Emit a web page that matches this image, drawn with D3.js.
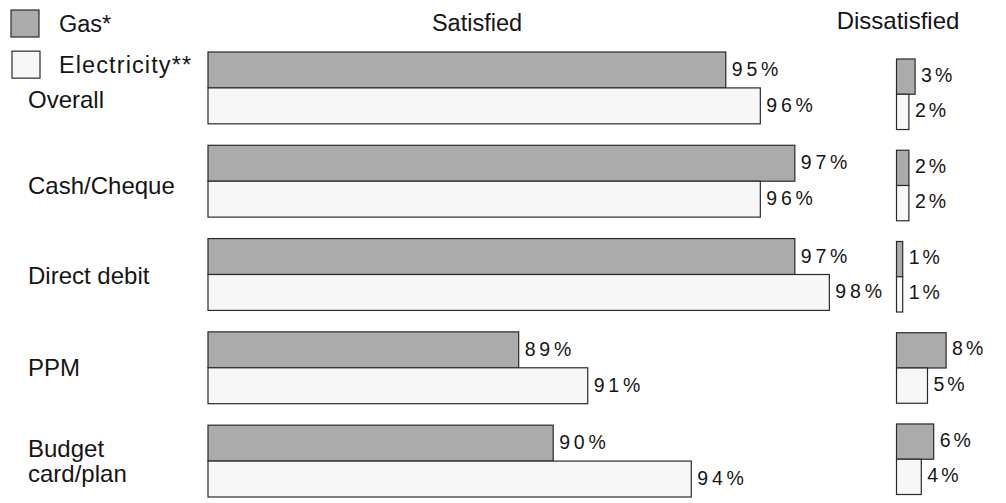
<!DOCTYPE html>
<html>
<head>
<meta charset="utf-8">
<script src="https://cdn.jsdelivr.net/npm/d3@7"></script>
<style>
  html, body { margin: 0; padding: 0; background: #ffffff; }
  svg { display: block; }
  text { font-family: "Liberation Sans", Arial, sans-serif; fill: #151515; }
</style>
</head>
<body>
<script>
// ---------- data ----------
const categories = ["Overall", "Cash/Cheque", "Direct debit", "PPM", "Budget card/plan"];
const categoryLines = [["Overall"], ["Cash/Cheque"], ["Direct debit"], ["PPM"], ["Budget", "card/plan"]];
const seriesNames = ["Gas*", "Electricity**"];
const satisfiedGas = [95, 97, 97, 89, 90];
const satisfiedElec = [96, 96, 98, 91, 94];
const dissatisfiedGas = [3, 2, 1, 8, 6];
const dissatisfiedElec = [2, 2, 1, 5, 4];
const panelTitles = ["Satisfied", "Dissatisfied"];

// ---------- layout ----------
const W = 1006, H = 503;
const colors = { "Gas*": "#ababab", "Electricity**": "#f7f7f7" };
const stroke = "#2a2a2a";
const labelNudge = [20, 13, 9, 8, 8];

const svg = d3.select("body").append("svg").attr("width", W).attr("height", H);

const xSat = d3.scaleLinear().domain([80, 100]).range([208, 898.4]);
const xDis = d3.scaleLinear().domain([0, 10]).range([896.5, 958.5]);
const ySat = d3.scaleBand().domain(categories).range([52, 497]).paddingInner(0.23);
const yDis = d3.scaleBand().domain(categories).range([59, 494.5]).paddingInner(0.227);
const ySatInner = d3.scaleBand().domain(seriesNames).range([0, ySat.bandwidth()]);
const yDisInner = d3.scaleBand().domain(seriesNames).range([0, yDis.bandwidth()]);

const rows = [];
categories.forEach((c, i) => {
  rows.push({ cat: c, s: "Gas*", sat: satisfiedGas[i], dis: dissatisfiedGas[i] });
  rows.push({ cat: c, s: "Electricity**", sat: satisfiedElec[i], dis: dissatisfiedElec[i] });
});

// satisfied bars
const gSat = svg.append("g");
gSat.selectAll("rect").data(rows).join("rect")
  .attr("x", xSat(80))
  .attr("y", d => ySat(d.cat) + ySatInner(d.s))
  .attr("width", d => xSat(d.sat) - xSat(80))
  .attr("height", ySatInner.bandwidth())
  .attr("fill", d => colors[d.s])
  .attr("stroke", stroke)
  .attr("stroke-width", 1.2);

gSat.selectAll("text").data(rows).join("text")
  .attr("x", d => xSat(d.sat) + 6)
  .attr("y", d => ySat(d.cat) + ySatInner(d.s) + ySatInner.bandwidth() / 2 + 6)
  .attr("font-size", 19.5)
  .attr("letter-spacing", 3.8)
  .text(d => d.sat + "%");

// dissatisfied bars
const gDis = svg.append("g");
gDis.selectAll("rect").data(rows).join("rect")
  .attr("x", xDis(0))
  .attr("y", d => yDis(d.cat) + yDisInner(d.s))
  .attr("width", d => xDis(d.dis) - xDis(0))
  .attr("height", yDisInner.bandwidth())
  .attr("fill", d => colors[d.s])
  .attr("stroke", stroke)
  .attr("stroke-width", 1.2);

gDis.selectAll("text").data(rows).join("text")
  .attr("x", d => xDis(d.dis) + 6)
  .attr("y", d => yDis(d.cat) + yDisInner(d.s) + yDisInner.bandwidth() / 2 + 5)
  .attr("font-size", 19.5)
  .attr("letter-spacing", 3)
  .text(d => d.dis + "%");

// category labels
const gCat = svg.append("g");
categories.forEach((c, i) => {
  const lines = categoryLines[i];
  const cy = ySat(c) + ySat.bandwidth() / 2 + labelNudge[i] - 12.5 * (lines.length - 1);
  const t = gCat.append("text").attr("x", 28).attr("y", cy).attr("font-size", 24);
  lines.forEach((ln, j) => {
    t.append("tspan").attr("x", 28).attr("dy", j === 0 ? 0 : 25).text(ln);
  });
});

// panel titles
svg.append("text").attr("x", 477).attr("y", 30.5).attr("text-anchor", "middle")
  .attr("font-size", 23.5).text(panelTitles[0]);
svg.append("text").attr("x", 898).attr("y", 28.5).attr("text-anchor", "middle")
  .attr("font-size", 24).text(panelTitles[1]);

// legend
const legend = svg.append("g");
const legY = d3.scaleBand().domain(seriesNames).range([10, 82]).paddingInner(0.25);
seriesNames.forEach((s, i) => {
  legend.append("rect")
    .attr("x", 11 + i).attr("y", legY(s))
    .attr("width", 28).attr("height", 27)
    .attr("fill", colors[s]).attr("stroke", stroke).attr("stroke-width", 1.2);
  legend.append("text")
    .attr("x", 59).attr("y", legY(s) + 22)
    .attr("font-size", 23.5)
    .attr("letter-spacing", i === 1 ? 1.1 : 0)
    .text(s);
});
</script>
</body>
</html>
